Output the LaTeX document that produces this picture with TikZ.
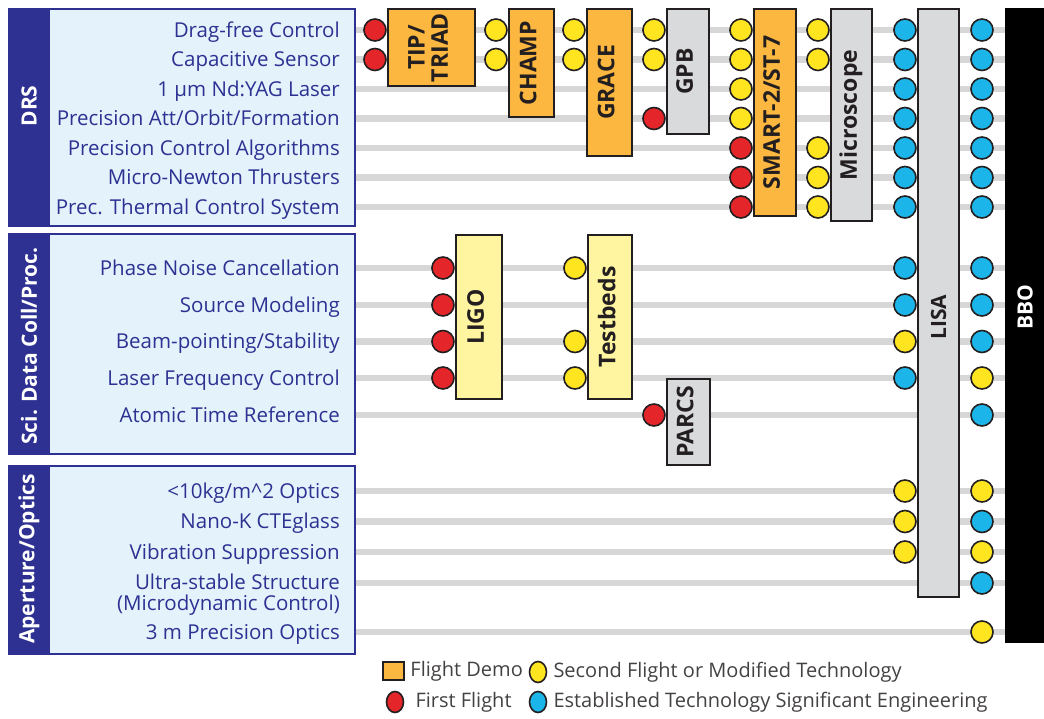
\documentclass[tikz,border=0pt]{standalone}
\usepackage{fontspec}
\setmainfont{Open Sans}
\usetikzlibrary{positioning,shapes.geometric}

\definecolor{drsnavy}{HTML}{2E3192}
\definecolor{grpfill}{HTML}{E4F3FB}
\definecolor{rowgray}{HTML}{D7D7D7}
\definecolor{demoorange}{HTML}{FBB73F}
\definecolor{paleyellow}{HTML}{FFF4A0}
\definecolor{boxgray}{HTML}{D9DADC}
\definecolor{dotred}{HTML}{E4262A}
\definecolor{dotyellow}{HTML}{FFE51F}
\definecolor{dotblue}{HTML}{1CB5EA}
\definecolor{ink}{HTML}{231F20}

\newcommand{\vtext}[1]{\rotatebox{90}{\begin{tabular}{@{}c@{}}#1\end{tabular}}}

\begin{document}
\begin{tikzpicture}[x=1pt, y=-1pt,
  group/.style={rectangle, draw=drsnavy, line width=2pt, fill=grpfill, inner sep=0pt},
  band/.style={rotate=90, text=white, font=\bfseries\fontsize{21}{24}\selectfont, inner sep=0pt},
  tech/.style={anchor=base east, yshift=-7.3pt, text=drsnavy, font=\fontsize{20.5}{21}\selectfont, align=right, inner sep=0pt},
  rowline/.style={draw=rowgray, line width=6.5pt},
  mission/.style={rectangle, draw=ink, line width=2.5pt, inner sep=0pt,
                  font=\bfseries\fontsize{23}{23}\selectfont, text=ink},
  mlabel/.style={rotate=90, inner sep=0pt, font=\bfseries\fontsize{21}{24}\selectfont},
  dot/.style={circle, draw=ink, line width=1.6pt, minimum size=22pt, inner sep=0pt},
  legdot/.style={ellipse, draw=ink, line width=1.6pt, minimum width=17pt, minimum height=21pt, inner sep=0pt},
  legtext/.style={text=ink!85, font=\fontsize{20}{21}\selectfont, inner sep=0pt}
]
\useasboundingbox (0,0) rectangle (1044,719);

% technology groups
\node[group, minimum width=346pt, minimum height=217pt] (drs) at (182,117.5) {};
\node[group, minimum width=346pt, minimum height=220pt] (sci) at (182,344) {};
\node[group, minimum width=346pt, minimum height=188pt] (apt) at (182,560) {};
\foreach \g in {drs,sci,apt}
  \fill[drsnavy] (\g.north west) rectangle ([xshift=42pt]\g.south west);
\node[band] (drslbl) at (29,106) {DRS};
\node[band] (scilbl) at (29,346) {Sci. Data Coll/Proc.};
\node[band] (aptlbl) at (29,559) {Aperture/Optics};

% rows
\foreach \n/\y in {1/30,2/59.5,3/89,4/118.5,5/148,6/177.5,7/207,
                   8/268,9/305,10/341.5,11/378,12/415,
                   13/491,14/521.5,15/552,16/583,17/632}
  \coordinate (r\n) at (0,\y);
\coordinate (txt) at (340,0);
\coordinate (bcol) at (982,0);

% BBO bar
\node[fill=black, minimum width=40pt, minimum height=635pt, inner sep=0pt] (bbo) at (1025,325.5) {};
\node[mlabel, text=white] (bbolbl) at ([yshift=18pt]bbo.center) {BBO};

\foreach \n in {1,...,17}
  \draw[rowline] (drs.east |- r\n) -- (bbo.west |- r\n);

\foreach \n/\lbl in {1/{Drag-free Control},2/{Capacitive Sensor},3/{1 µm Nd:YAG Laser},
    4/{Precision Att/Orbit/Formation},5/{Precision Control Algorithms},
    6/{Micro-Newton Thrusters},7/{Prec. Thermal Control System},
    8/{Phase Noise Cancellation},9/{Source Modeling},10/{Beam-pointing/Stability},
    11/{Laser Frequency Control},12/{Atomic Time Reference},
    13/{<10kg/m\textasciicircum2 Optics},14/{Nano-K CTEglass},
    15/{Vibration Suppression},17/{3 m Precision Optics}}
  \node[tech] (t\n) at (txt |- r\n) {\lbl};
\node[tech, anchor=north east] (t16) at (340,566) {Ultra-stable Structure\\(Microdynamic Control)};

% missions
\node[mission, fill=demoorange, minimum width=87pt, minimum height=77pt] (tip) at (431.5,47.5) {\vtext{TIP/\\TRIAD}};
\node[mission, fill=demoorange, minimum width=45pt, minimum height=108pt] (champ) at (531.5,63) {\vtext{CHAMP}};
\node[mission, fill=demoorange, minimum width=45pt, minimum height=147pt] (grace) at (609.5,82.5) {\vtext{GRACE}};
\node[mission, fill=boxgray, minimum width=42pt, minimum height=125pt] (gpb) at (688,71.5) {\vtext{GPB}};
\node[mission, fill=demoorange, minimum width=42pt, minimum height=207pt] (smart) at (775,112.5) {\vtext{SMART-2/ST-7}};
\node[mission, fill=boxgray, minimum width=41pt, minimum height=212pt] (micro) at (851.5,115) {\vtext{Microscope}};
\node[mission, fill=boxgray, minimum width=41pt, minimum height=588pt] (lisa) at (938.5,303) {};
\node[mlabel, text=ink] (lisalbl) at ([yshift=-14pt]lisa.center) {LISA};
\node[mission, fill=paleyellow, minimum width=46pt, minimum height=164pt] (ligo) at (479,317) {\vtext{LIGO}};
\node[mission, fill=paleyellow, minimum width=44pt, minimum height=164pt] (testbeds) at (610,317) {\vtext{Testbeds}};
\node[mission, fill=boxgray, minimum width=43pt, minimum height=86pt] (parcs) at (688.5,422) {\vtext{PARCS}};

% technology status dots
\foreach \n in {1,2}
  \node[dot, fill=dotred, anchor=east] (tip-\n) at (tip.west |- r\n) {};
\foreach \n in {1,2}
  \node[dot, fill=dotyellow, anchor=east] (champ-\n) at (champ.west |- r\n) {};
\foreach \n in {1,2}
  \node[dot, fill=dotyellow, anchor=east] (grace-\n) at (grace.west |- r\n) {};
\foreach \n/\c in {1/dotyellow,2/dotyellow,4/dotred}
  \node[dot, fill=\c, anchor=east] (gpb-\n) at (gpb.west |- r\n) {};
\foreach \n/\c in {1/dotyellow,2/dotyellow,3/dotyellow,4/dotyellow,5/dotred,6/dotred,7/dotred}
  \node[dot, fill=\c, anchor=east] (smart-\n) at (smart.west |- r\n) {};
\foreach \n in {1,2,5,6,7}
  \node[dot, fill=dotyellow, anchor=east] (micro-\n) at (micro.west |- r\n) {};
\foreach \n/\c in {1/dotblue,2/dotblue,3/dotblue,4/dotblue,5/dotblue,6/dotblue,7/dotblue,
                   8/dotblue,9/dotblue,10/dotyellow,11/dotblue,13/dotyellow,14/dotyellow,15/dotyellow}
  \node[dot, fill=\c, anchor=east] (lisa-\n) at (lisa.west |- r\n) {};
\foreach \n/\c in {1/dotblue,2/dotblue,3/dotblue,4/dotblue,5/dotblue,6/dotblue,7/dotblue,
                   8/dotblue,9/dotblue,10/dotblue,11/dotyellow,12/dotblue,
                   13/dotyellow,14/dotblue,15/dotyellow,16/dotblue,17/dotyellow}
  \node[dot, fill=\c] (bbo-\n) at (bcol |- r\n) {};
\foreach \n in {8,...,11}
  \node[dot, fill=dotred, anchor=east] (ligo-\n) at (ligo.west |- r\n) {};
\foreach \n in {8,10,11}
  \node[dot, fill=dotyellow, anchor=east] (testbeds-\n) at (testbeds.west |- r\n) {};
\node[dot, fill=dotred, anchor=east] (parcs-12) at (parcs.west |- r12) {};

% legend
\node[mission, fill=demoorange, minimum width=21pt, minimum height=18pt] (legdemo) at (393.5,671) {};
\node[legtext, right=5pt of legdemo] (legdemotxt) {Flight Demo};
\node[legdot, fill=dotred] (legfirst) at (395,702) {};
\node[legtext, right=11pt of legfirst] (legfirsttxt) {First Flight};
\node[legdot, fill=dotyellow] (legsecond) at (538,672) {};
\node[legtext, right=6pt of legsecond] (legsecondtxt) {Second Flight or Modified Technology};
\node[legdot, fill=dotblue] (legest) at (538,702) {};
\node[legtext, right=6pt of legest] (legesttxt) {Established Technology Significant Engineering};
\end{tikzpicture}
\end{document}
